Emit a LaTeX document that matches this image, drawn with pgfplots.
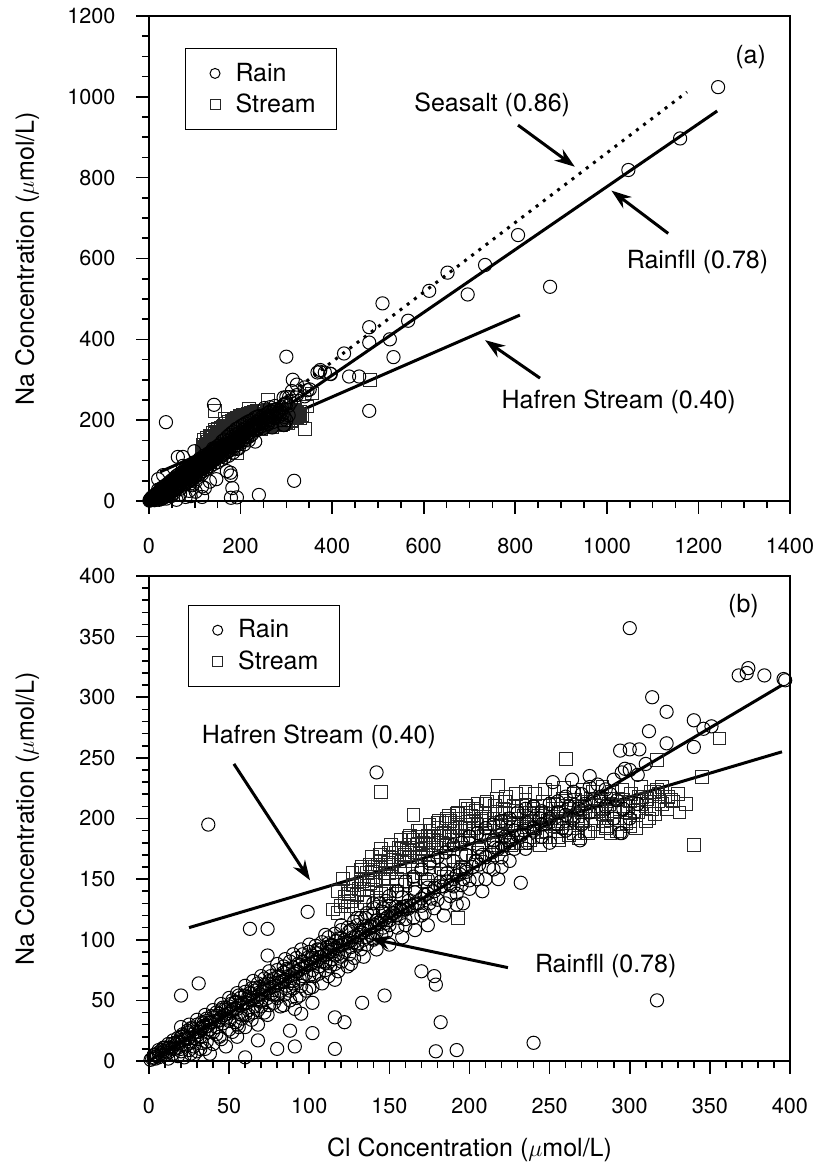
\documentclass[border=0pt]{standalone}
\usepackage{pgfplots}
\pgfplotsset{compat=1.18}
\usepackage{pgfplotstable}
\usetikzlibrary{arrows.meta}
\usepackage{fontspec}
\setmainfont{TeX Gyre Heros}

% Rain samples (Cl, Na in umol/L)
\pgfplotstableread[row sep=\\]{
x y\\
2 2\\ 4 2\\ 6 7\\ 8 5\\ 10 5\\ 12 11\\ 14 14\\ 16 10\\ 18 16\\ 20 10\\ 22 21\\ 24 18\\ 26 27\\ 28 19\\ 30 18\\ 32 27\\
34 31\\ 36 24\\ 38 32\\ 40 24\\ 42 37\\ 44 34\\ 46 44\\ 48 35\\ 50 33\\ 52 42\\ 54 48\\ 56 39\\ 58 48\\ 60 38\\ 62 53\\ 64 50\\
66 60\\ 68 51\\ 70 49\\ 72 59\\ 74 64\\ 76 55\\ 78 64\\ 80 54\\ 82 69\\ 84 65\\ 86 76\\ 88 66\\ 90 64\\ 92 74\\ 94 79\\ 96 70\\
98 80\\ 100 70\\ 102 85\\ 104 81\\ 106 92\\ 108 82\\ 110 81\\ 112 90\\ 114 95\\ 116 87\\ 118 95\\ 120 86\\ 122 100\\ 124 97\\
126 108\\ 128 98\\ 130 97\\ 132 106\\ 134 111\\ 136 102\\ 138 111\\ 140 101\\ 142 116\\ 144 113\\ 146 123\\ 148 114\\ 150 112\\
152 122\\ 154 127\\ 156 118\\ 158 127\\ 160 117\\ 162 132\\ 164 128\\ 166 139\\ 168 130\\ 170 128\\ 172 137\\ 174 143\\ 176 134\\
178 143\\ 180 133\\ 182 148\\ 184 144\\ 186 155\\ 188 145\\ 190 144\\ 192 153\\ 194 158\\ 196 150\\ 198 158\\ 200 149\\ 204 165\\
208 170\\ 212 160\\ 216 176\\ 220 168\\ 224 182\\ 228 175\\ 232 186\\ 236 180\\ 240 192\\
1 1\\ 3 3\\ 5 4\\ 7 6\\ 9 8\\ 11 8\\ 13 11\\ 15 12\\ 17 14\\ 19 15\\ 21 17\\ 23 19\\ 25 19\\ 27 22\\ 29 24\\ 31 24\\ 33 27\\
35 28\\ 37 29\\ 39 32\\ 41 33\\ 43 33\\ 45 36\\ 47 38\\ 49 39\\ 51 41\\ 53 43\\ 55 43\\ 57 46\\ 59 47\\ 61 48\\ 63 51\\ 65 52\\
67 53\\ 69 55\\ 71 57\\ 73 58\\ 75 60\\ 77 61\\ 79 62\\ 81 65\\ 83 66\\ 85 67\\ 87 70\\ 89 71\\ 91 72\\ 93 74\\ 95 76\\ 97 77\\
99 79\\ 101 80\\ 103 82\\ 105 83\\ 107 86\\ 109 87\\ 111 88\\ 113 90\\ 115 92\\ 117 93\\ 119 95\\ 121 96\\ 123 98\\ 125 99\\
127 102\\ 129 103\\ 131 104\\ 133 106\\ 135 108\\ 137 109\\ 139 111\\ 141 112\\ 143 114\\ 145 116\\ 147 117\\ 149 119\\ 151 120\\
153 122\\ 155 124\\ 157 125\\ 159 127\\ 161 128\\
3 5\\ 6 9\\ 9 11\\ 12 14\\ 15 17\\ 18 19\\ 21 22\\ 24 25\\ 27 27\\ 30 30\\ 33 32\\ 36 35\\ 39 37\\ 42 40\\ 45 42\\ 48 44\\
51 47\\ 54 49\\ 57 52\\ 60 54\\ 63 56\\ 66 58\\ 69 61\\ 72 63\\ 75 66\\ 78 68\\ 81 70\\ 84 73\\ 87 75\\ 90 77\\ 93 80\\ 96 82\\
99 85\\ 102 87\\ 105 89\\ 108 92\\ 111 94\\ 114 96\\ 117 99\\ 120 101\\
4 5\\ 6 3\\ 8 9\\ 10 11\\ 12 7\\ 14 10\\ 16 15\\ 18 11\\ 20 20\\ 22 14\\ 24 23\\ 26 15\\ 28 26\\ 30 21\\ 32 20\\ 34 29\\
36 33\\ 38 26\\ 40 36\\ 42 28\\ 44 39\\ 46 31\\ 48 42\\ 50 45\\
52 50\\ 56 54\\ 60 57\\ 64 60\\ 68 64\\ 72 68\\ 76 70\\ 80 75\\ 84 78\\ 88 82\\ 92 85\\ 96 88\\ 100 90\\ 104 95\\ 108 98\\
112 102\\ 116 105\\ 120 108\\ 124 110\\ 128 115\\ 132 118\\ 136 122\\ 140 126\\ 144 130\\ 148 132\\
54 32\\ 58 38\\ 62 42\\ 66 45\\ 70 50\\ 74 52\\ 78 55\\ 82 58\\ 86 62\\ 90 66\\ 94 68\\ 98 72\\ 102 75\\ 106 78\\ 110 82\\
114 84\\ 118 88\\ 122 90\\ 126 94\\ 130 96\\ 134 100\\ 138 104\\ 142 106\\ 146 110\\ 150 116\\ 154 120\\ 158 124\\ 162 126\\
166 130\\ 170 134\\ 174 138\\ 178 140\\ 182 144\\ 186 148\\ 190 150\\ 194 154\\ 198 156\\ 202 160\\ 206 162\\ 210 168\\
214 172\\ 218 175\\ 222 178\\ 226 182\\ 230 186\\ 234 190\\
20 28\\ 25 30\\ 30 34\\ 35 38\\ 40 42\\ 45 47\\ 50 52\\ 55 56\\ 60 62\\ 65 66\\ 70 70\\ 75 74\\ 80 80\\ 85 84\\ 90 88\\ 95 92\\
100 96\\ 110 104\\ 120 112\\ 130 118\\ 140 130\\ 150 136\\
28 5\\ 32 10\\ 36 16\\ 44 20\\ 52 24\\ 56 28\\ 64 34\\ 68 30\\ 74 38\\ 84 46\\ 88 50\\ 94 54\\ 100 60\\ 108 64\\ 112 70\\
118 74\\ 126 80\\ 134 86\\ 142 92\\ 150 96\\ 158 102\\ 166 108\\ 174 112\\ 184 120\\ 196 130\\ 208 140\\ 218 150\\
12 2\\ 18 4\\ 22 3\\ 26 6\\ 30 8\\ 35 10\\ 40 14\\ 45 18\\ 48 12\\ 55 20\\ 60 28\\ 38 6\\ 25 9\\ 15 6\\ 20 8\\ 28 12\\ 33 15\\
42 22\\ 50 26\\ 55 30\\ 58 35\\ 62 38\\ 65 40\\ 68 42\\ 70 45\\ 72 40\\ 75 46\\ 78 48\\ 80 52\\ 82 45\\ 85 55\\ 88 58\\ 90 60\\
92 52\\ 95 62\\ 98 58\\ 103 70\\ 106 72\\ 110 75\\ 113 78\\ 116 80\\ 120 82\\ 125 88\\ 128 85\\ 132 92\\ 136 96\\ 140 100\\
145 104\\ 148 106\\ 155 110\\ 160 112\\ 165 118\\ 172 122\\ 178 126\\ 185 130\\ 192 138\\ 200 142\\ 210 150\\ 220 160\\
160 125\\ 170 120\\ 175 130\\ 188 136\\ 195 145\\ 205 150\\ 215 158\\ 225 165\\ 235 175\\ 245 185\\ 255 195\\ 265 200\\
275 205\\ 285 210\\ 290 200\\ 270 195\\ 260 190\\
105 92\\ 112 97\\ 118 101\\ 125 107\\ 130 112\\ 135 118\\ 140 121\\ 146 126\\ 155 140\\ 160 148\\ 165 152\\ 170 158\\ 175 163\\
180 168\\ 185 172\\ 190 178\\ 195 180\\ 200 185\\ 205 188\\ 210 192\\ 215 195\\ 220 198\\ 225 200\\ 230 205\\ 235 208\\ 240 210\\
245 206\\ 250 212\\ 255 214\\ 260 218\\ 265 222\\ 270 220\\ 275 226\\ 280 228\\ 285 224\\ 290 232\\ 295 238\\ 300 240\\ 305 236\\
310 245\\ 240 190\\ 245 195\\ 250 200\\ 255 205\\ 260 203\\ 262 210\\ 268 208\\ 272 212\\ 278 215\\ 282 218\\ 288 220\\ 292 215\\
296 208\\ 300 200\\ 305 212\\ 269 182\\ 294 188\\ 250 180\\ 248 196\\ 258 192\\ 244 200\\ 236 196\\ 228 190\\ 222 185\\ 215 182\\
206 176\\ 198 170\\ 190 165\\ 182 158\\ 174 150\\ 166 142\\ 158 135\\ 150 128\\
300 357\\ 374 324\\ 368 318\\ 384 318\\ 396 315\\ 314 300\\ 323 288\\ 340 281\\ 346 274\\ 351 276\\ 312 272\\ 340 259\\ 323 262\\
294 256\\ 300 257\\ 306 257\\ 297 241\\ 252 230\\ 275 235\\ 264 232\\ 232 147\\ 295 188\\ 192 129\\ 317 50\\ 240 15\\ 142 238\\
37 195\\ 99 123\\ 63 109\\ 74 109\\ 74 87\\ 31 64\\ 20 54\\ 170 74\\ 178 70\\ 179 63\\ 147 54\\ 133 48\\ 182 32\\ 179 8\\ 192 9\\
116 10\\ 116 36\\ 122 32\\ 102 23\\ 88 25\\ 91 12\\ 80 10\\ 60 3\\ 68 17\\ 91 43\\ 95 39\\ 102 48\\ 102 61\\ 124 78\\ 116 67\\
1243 1024\\ 1160 897\\ 1047 819\\ 806 658\\ 734 584\\ 652 565\\ 612 520\\ 696 511\\ 510 489\\ 566 446\\ 481 430\\ 481 392\\
526 400\\ 534 356\\ 426 365\\ 373 320\\ 397 314\\ 437 308\\ 459 308\\ 481 223\\ 876 530\\
}\rain

% Stream samples (Afon Hafren)
\pgfplotstableread[row sep=\\]{
x y\\
120 128\\ 122 135\\ 124 140\\ 126 132\\ 128 145\\ 130 138\\ 132 150\\ 134 142\\ 136 155\\ 138 147\\ 140 152\\ 140 160\\ 142 145\\
144 158\\ 145 165\\ 146 150\\ 148 160\\ 150 155\\ 150 168\\ 152 162\\ 154 172\\ 155 150\\ 156 165\\ 158 175\\ 160 160\\ 160 170\\
162 178\\ 164 165\\ 165 182\\ 166 172\\ 168 160\\ 168 185\\ 170 175\\ 170 168\\ 172 182\\ 174 170\\ 175 190\\ 176 178\\ 178 185\\
178 165\\ 180 180\\ 180 192\\ 182 172\\ 184 188\\ 185 196\\ 186 178\\ 188 185\\ 188 198\\ 190 175\\ 190 190\\ 192 182\\ 192 200\\
194 192\\ 195 170\\ 196 186\\ 198 195\\ 198 205\\ 200 180\\ 200 190\\ 202 198\\ 202 208\\ 204 185\\ 205 195\\ 206 175\\ 208 200\\
210 188\\ 210 205\\ 212 195\\ 214 182\\ 215 200\\ 216 210\\ 218 190\\ 220 197\\ 220 186\\ 222 205\\ 224 192\\ 225 180\\ 226 200\\
228 210\\ 230 195\\ 232 188\\ 234 202\\ 235 215\\ 236 193\\ 238 205\\ 240 185\\ 240 198\\ 242 210\\ 245 195\\ 246 205\\ 248 190\\
250 200\\ 252 212\\ 254 196\\ 255 185\\ 256 205\\ 258 198\\ 260 210\\ 262 192\\ 264 202\\ 266 215\\ 268 196\\ 270 205\\ 272 190\\
274 210\\ 276 200\\ 278 195\\ 280 206\\ 282 214\\ 284 198\\ 286 204\\ 288 188\\ 290 210\\ 292 200\\ 294 195\\ 296 215\\ 298 205\\
300 198\\ 302 212\\ 305 205\\ 308 218\\ 310 210\\ 312 200\\ 315 222\\ 318 214\\ 322 218\\ 326 215\\
125 138\\ 127 145\\ 131 142\\ 133 148\\ 137 150\\ 139 156\\ 141 149\\ 143 162\\ 147 155\\ 149 163\\ 151 158\\ 153 166\\ 157 160\\
159 168\\ 161 174\\ 163 168\\ 167 178\\ 169 171\\ 171 180\\ 173 176\\ 177 182\\ 179 176\\ 181 186\\ 183 180\\ 187 190\\ 189 182\\
191 196\\ 193 186\\ 197 192\\ 199 185\\ 201 202\\ 203 192\\ 207 198\\ 209 186\\ 211 200\\ 213 192\\ 217 204\\ 219 194\\ 221 208\\
223 198\\ 227 196\\ 229 206\\ 231 200\\ 233 210\\ 237 198\\ 239 208\\ 241 192\\ 243 202\\ 247 210\\ 249 198\\ 251 204\\ 253 194\\
257 208\\ 259 200\\ 261 196\\ 263 212\\ 267 202\\ 269 208\\ 271 198\\ 273 214\\ 277 206\\ 279 200\\ 281 210\\ 283 204\\ 287 212\\
289 200\\ 291 206\\ 293 216\\ 297 200\\ 299 210\\ 303 206\\ 307 212\\ 311 216\\ 314 208\\ 320 212\\ 330 220\\
115 125\\ 118 140\\ 121 150\\ 124 128\\ 127 155\\ 130 125\\ 133 160\\ 136 135\\ 139 168\\ 142 132\\ 145 175\\ 148 140\\ 151 178\\
154 138\\ 157 182\\ 160 145\\ 163 186\\ 166 150\\ 169 190\\ 172 148\\ 175 195\\ 178 155\\ 181 198\\ 184 152\\ 187 202\\ 190 158\\
193 205\\ 196 160\\ 199 208\\ 202 165\\ 205 212\\ 208 168\\ 211 214\\ 214 170\\ 217 216\\ 220 175\\ 223 218\\ 226 178\\ 229 220\\
232 180\\ 235 222\\ 238 182\\ 241 220\\ 244 178\\ 247 224\\ 250 185\\ 253 222\\ 256 182\\ 259 225\\ 262 186\\ 265 220\\ 268 184\\
271 224\\ 274 188\\ 277 222\\ 280 190\\ 283 226\\ 286 194\\ 289 222\\ 292 190\\ 295 224\\ 298 196\\ 301 220\\ 304 192\\ 307 226\\
310 198\\ 313 222\\ 316 204\\ 320 226\\ 323 208\\ 327 214\\ 331 205\\ 335 212\\
132 158\\ 138 162\\ 144 170\\ 150 172\\ 156 176\\ 162 184\\ 168 190\\ 174 186\\ 180 196\\ 186 200\\ 192 204\\ 198 210\\ 204 206\\
210 212\\ 216 196\\ 222 214\\ 228 204\\ 234 196\\ 240 204\\ 246 214\\ 252 208\\ 258 216\\ 264 208\\ 270 214\\ 276 216\\ 282 208\\
288 216\\ 294 208\\ 300 214\\ 306 218\\ 312 214\\ 318 220\\
150 140\\ 155 145\\ 160 148\\ 165 150\\ 170 155\\ 175 160\\ 185 165\\ 195 168\\ 205 172\\ 215 178\\ 225 185\\ 235 180\\ 245 185\\
255 190\\ 265 188\\ 275 190\\ 285 192\\ 300 194\\ 135 130\\ 145 138\\
145 222\\ 165 203\\ 193 118\\ 218 227\\ 260 249\\ 317 248\\ 345 234\\ 356 266\\ 340 178\\ 317 224\\ 324 218\\ 122 131\\ 130 137\\
118 122\\ 483 300\\
}\stream

\tikzset{
  note/.style={font=\fontsize{12.5}{15}\selectfont},
  pointer/.style={-{Stealth[length=10pt,width=7pt]}, line width=1.5pt},
}

\pgfplotsset{
  panel/.style={
    width=320.5pt, height=242.5pt, scale only axis,
    enlargelimits=false, clip=true,
    axis line style={line width=0.8pt},
    tick align=outside, tick pos=left,
    major tick length=6.3pt, minor tick length=3.6pt,
    every tick/.style={black, line width=0.8pt},
    tick label style={font=\fontsize{10.8}{13}\selectfont},
    xticklabel style={yshift=-9pt},
    yticklabel style={xshift=-7pt},
    label style={font=\fontsize{12.5}{15}\selectfont},
    /pgf/number format/assume math mode=true,
    /pgf/number format/1000 sep={},
    every axis y label/.style={at={(axis description cs:-0.19,0.5)}, rotate=90, anchor=center,
      font=\fontsize{12.5}{15}\selectfont},
    ylabel={Na Concentration ($\mu$mol/L)},
    legend style={draw=black, line width=0.5pt, font=\fontsize{12.5}{15}\selectfont,
      anchor=north west, inner xsep=8.5pt, inner ysep=5pt, row sep=1pt,
      /tikz/every even column/.append style={column sep=3.5pt}},
    legend cell align=left,
    legend image code/.code={\path (-6pt,-0.1cm) (8pt,0.1cm);
      \draw[##1,mark size=2.5pt] plot coordinates {(0pt,0pt)};},
  },
  rainpts/.style={only marks, mark=o, mark size=3.3pt, black, mark options={line width=0.5pt}},
  streampts/.style={only marks, mark=square, mark size=3.2pt, black!85, mark options={line width=0.5pt}},
  fitline/.style={black, line width=1.5pt, forget plot},
}

\begin{document}
\begin{tikzpicture}
\useasboundingbox (-74.5pt,-51.5pt) rectangle (335pt,530.5pt);

% (a) full range
\begin{axis}[panel, at={(0pt,280pt)}, anchor=south west,
    xmin=0, xmax=1400, ymin=0, ymax=1200,
    xtick={0,200,...,1400}, ytick={0,200,...,1200}, minor tick num=3,
    legend style={at={(rel axis cs:0.0562,0.9334)}}]
  \addplot[streampts, forget plot] table {\stream};
  \addplot[rainpts, forget plot] table {\rain};
  \addlegendimage{rainpts}
  \addlegendentry{Rain}
  \addlegendimage{streampts}
  \addlegendentry{Stream}
  \addplot[fitline] coordinates {(0,0) (1241,965)};
  \addplot[fitline, dash pattern=on 1.5pt off 3pt] coordinates {(0,0) (1175,1012)};
  \addplot[fitline] coordinates {(24,72) (810,460)};
  \node[note] at (axis cs:1314,1099) {(a)};
  \node[note, anchor=east] at (axis cs:935,980) {Seasalt (0.86)};
  \draw[pointer] (axis cs:806,930) -- (axis cs:930,827);
  \draw[pointer] (axis cs:1134,662) -- (axis cs:1010,768);
  \node[note] at (axis cs:1198,592) {Rainfll (0.78)};
  \draw[pointer] (axis cs:854,304) -- (axis cs:734,398);
  \node[note] at (axis cs:1026,246) {Hafren Stream (0.40)};
\end{axis}

% (b) zoom on 0-400
\begin{axis}[panel, at={(0pt,0pt)}, anchor=south west,
    xmin=0, xmax=400, ymin=0, ymax=400,
    xtick={0,50,...,400}, ytick={0,50,...,400}, minor tick num=4,
    xlabel={Cl Concentration ($\mu$mol/L)},
    xlabel style={at={(axis description cs:0.5,-0.1835)}, anchor=center},
    legend style={at={(rel axis cs:0.0604,0.94)}}]
  \addplot[streampts, forget plot] table {\stream};
  \addplot[rainpts, forget plot] table {\rain};
  \addlegendimage{rainpts}
  \addlegendentry{Rain}
  \addlegendimage{streampts}
  \addlegendentry{Stream}
  \addplot[fitline] coordinates {(0,0) (395,310)};
  \addplot[fitline] coordinates {(25,110) (395,255)};
  \node[note] at (axis cs:371,375) {(b)};
  \node[note] at (axis cs:106,267.5) {Hafren Stream (0.40)};
  \draw[pointer] (axis cs:53,245) -- (axis cs:100.5,149);
  \draw[pointer] (axis cs:224,77) -- (axis cs:138,101);
  \node[note] at (axis cs:285,78) {Rainfll (0.78)};
\end{axis}
\end{tikzpicture}
\end{document}
